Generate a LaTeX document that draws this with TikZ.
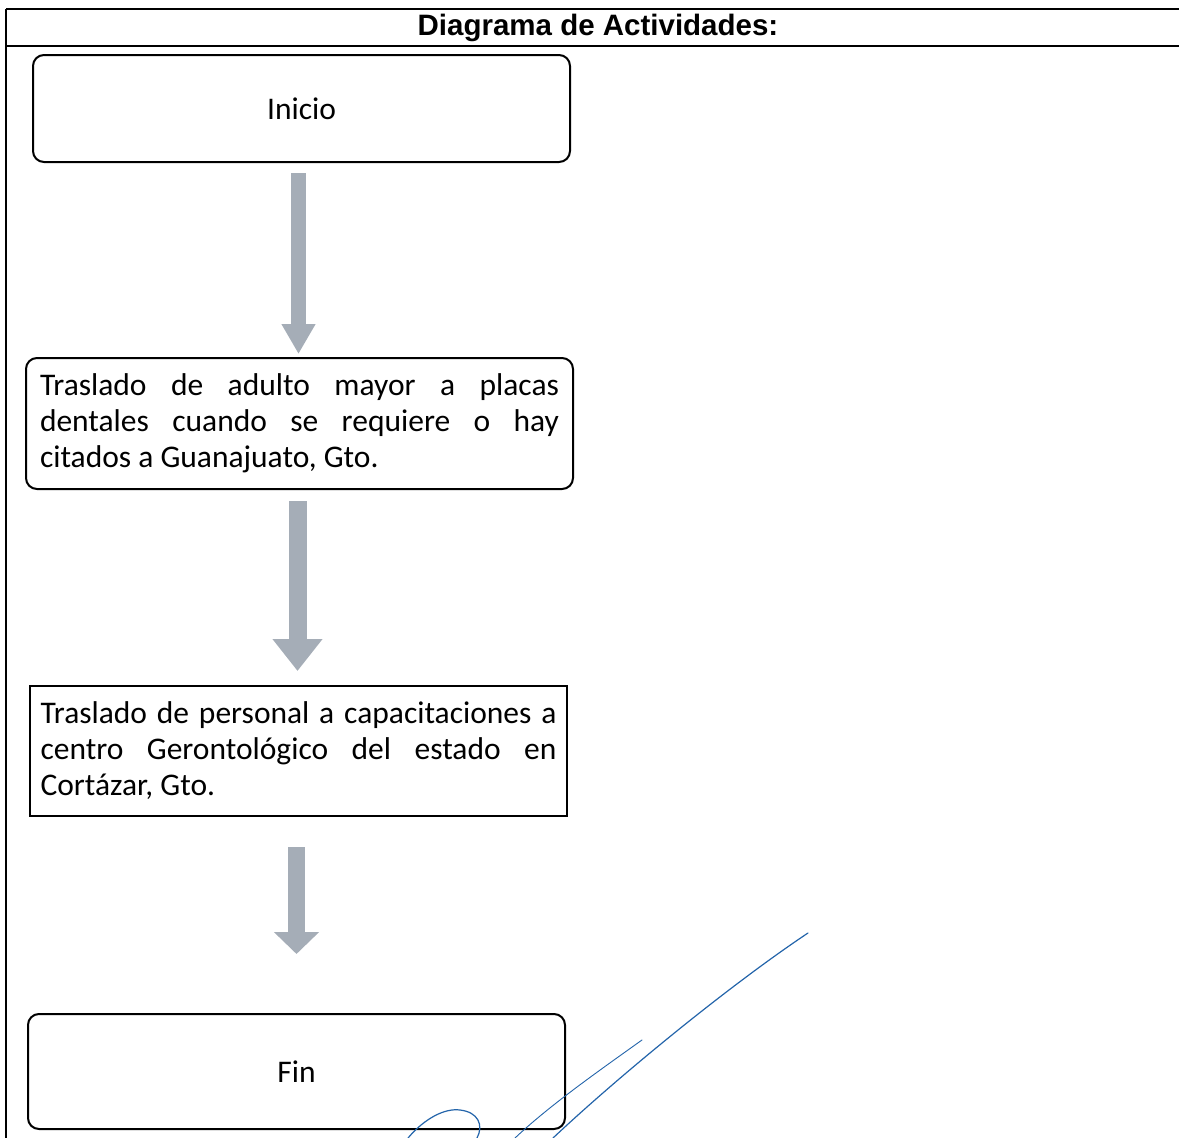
\documentclass[tikz,border=0pt]{standalone}
\usepackage{fontspec}
\setmainfont{Carlito}
\newfontfamily\headfont{Liberation Sans}
\usetikzlibrary{arrows.meta}
\definecolor{flow}{RGB}{165,173,183}
\definecolor{ink}{RGB}{35,100,170}
\hyphenpenalty=10000
\exhyphenpenalty=10000
\tolerance=10000

\tikzset{
  stepbox/.style={draw=black, line width=2pt, fill=white, rounded corners=11pt,
    inner sep=0pt, font=\fontsize{31.5}{36}\selectfont},
  textbox/.style={stepbox, align=justify},
  flowarrow/.style={draw=flow, line width=#1},
  frame/.style={line width=1.6pt},
  sign/.style={ink, line width=1.2pt, line cap=round}
}

\begin{document}
\begin{tikzpicture}[x=1pt, y=-1pt]
  \useasboundingbox (0,0) rectangle (1179,1138);

  % table frame and header
  \draw[frame] (6,9) -- (1179,9);
  \draw[frame] (6,46) -- (1179,46);
  \draw[frame] (6,9) -- (6,1138);
  \node[font=\headfont\bfseries\fontsize{29.5}{32}\selectfont] (title) at (598,27.5)
    {Diagrama de Actividades:};

  % activity boxes
  \node[stepbox, minimum width=537pt, minimum height=107pt] (inicio) at (301.5,108.5) {Inicio};
  \node[textbox, text width=519pt, minimum width=547pt, minimum height=131pt] (adulto) at (299.5,423.5)
    {Traslado de adulto mayor a placas\linebreak dentales cuando se requiere o hay\linebreak citados a Guanajuato, Gto.};
  \node[textbox, sharp corners, text width=516pt, minimum width=537pt, minimum height=130pt] (personal) at (298.5,751)
    {Traslado de personal a capacitaciones a\linebreak centro Gerontológico del estado en\linebreak Cortázar, Gto.};
  \node[stepbox, minimum width=537pt, minimum height=115pt] (fin) at (296.5,1071.5) {Fin};

  % block arrows between the steps
  \draw[flowarrow=15pt, -{Triangle[width=32pt,length=30pt,fill=flow]}, shorten <=10pt, shorten >=3pt]
    ([xshift=-3pt]inicio.south) -- ([xshift=-3pt]inicio.south |- adulto.north);
  \draw[flowarrow=18pt, -{Triangle[width=48pt,length=32pt,fill=flow]}, shorten <=11pt, shorten >=14pt]
    ([xshift=-2pt]adulto.south) -- ([xshift=-2pt]adulto.south |- personal.north);
  \draw[flowarrow=17pt, -{Triangle[width=44pt,length=22pt,fill=flow]}, shorten <=30pt, shorten >=59pt]
    ([xshift=-2pt]personal.south) -- ([xshift=-2pt]personal.south |- fin.north);

  % signature strokes
  \draw[sign] (808,933) .. controls (730,985) and (620,1075) .. (553,1138);
  \draw[sign, line width=0.9pt] (642,1040) .. controls (600,1070) and (550,1105) .. (515,1138);
  \draw[sign] (408,1138) .. controls (425,1118) and (445,1108) .. (460,1110)
    .. controls (478,1112) and (484,1125) .. (477,1138);
\end{tikzpicture}
\end{document}
